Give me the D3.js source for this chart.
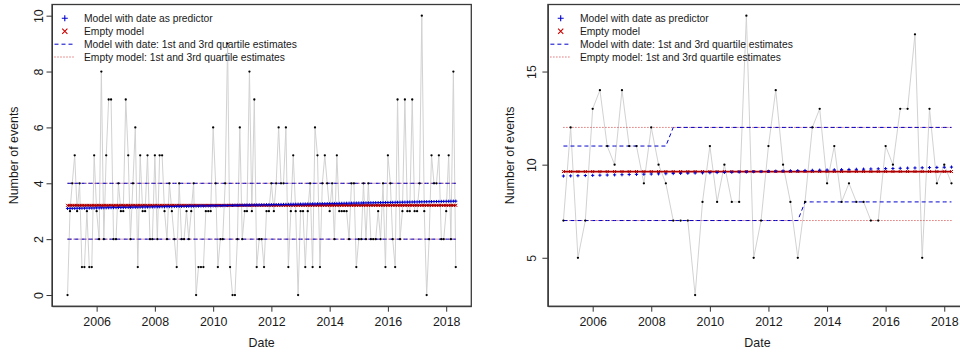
<!DOCTYPE html>
<html>
<head>
<meta charset="utf-8">
<script src="https://cdn.jsdelivr.net/npm/d3@7"></script>
<style>
  body { margin: 0; background: #fff; }
  svg { display: block; }
  text { font-family: "Liberation Sans", Arial, Helvetica, sans-serif; fill: #1a1a1a; }
</style>
</head>
<body>
<svg id="chart" width="960" height="353"></svg>
<script>
// ---- Monthly event counts, January 2005 to May 2018 ----
const monthlyCounts = [
  0, 3, 4, 5, 3, 4, 1, 1, 3, 1, 1, 5,
  3, 2, 8, 2, 5, 7, 7, 2, 2, 4, 3, 3,
  7, 5, 2, 4, 6, 1, 5, 3, 3, 5, 2, 2,
  5, 2, 5, 5, 3, 2, 4, 3, 2, 1, 4, 2,
  2, 3, 2, 3, 4, 0, 1, 1, 1, 3, 3, 3,
  6, 4, 1, 2, 2, 4, 9, 1, 0, 0, 2, 6,
  2, 3, 3, 8, 3, 7, 1, 2, 2, 1, 3, 3,
  4, 3, 4, 6, 4, 4, 6, 1, 3, 5, 3, 0,
  3, 3, 1, 3, 4, 1, 6, 5, 1, 4, 5, 4,
  3, 4, 2, 5, 3, 3, 3, 3, 2, 4, 4, 1,
  2, 2, 4, 2, 4, 2, 2, 2, 3, 2, 4, 1,
  5, 4, 2, 1, 7, 2, 3, 7, 3, 3, 7, 3,
  3, 4, 10, 3, 0, 2, 5, 4, 4, 5, 2, 2,
  3, 5, 2, 8, 1
];
const monthlyFirst = "2005-01-01";

// Monthly models: fitted mean of the empty model, fitted trend (first and last month),
// and the 1st / 3rd quartile estimates (same for both models)
const monthlyEmptyMean = 3.21;
const monthlyTrendEnds = [3.10, 3.36];
const monthlyQuartiles = [2, 4];

// ---- Quarterly event counts, Q1 2005 to Q2 2018 ----
const quarterlyCounts = [
  7, 12, 5, 7,
  13, 14, 11, 10,
  14, 11, 11, 9,
  12, 10, 9, 7,
  7, 7, 3, 8,
  11, 8, 10, 8,
  8, 18, 5, 7,
  11, 14, 10, 8,
  5, 8, 12, 13,
  9, 11, 8, 9,
  8, 8, 7, 7,
  11, 10, 13, 13,
  17, 5, 13, 9,
  10, 9
];
const quarterlyFirst = "2005-01-01";

const quarterlyEmptyMean = 9.63;
const quarterlyTrendEnds = [9.39, 9.87];
const quarterlyEmptyQuartiles = [7, 12];
// Quartile estimates of the model with date, one per quarter
const quarterlyTrendLower = [
  7, 7, 7, 7, 7, 7, 7, 7, 7, 7, 7, 7, 7, 7, 7, 7,
  7, 7, 7, 7, 7, 7, 7, 7, 7, 7, 7, 7, 7, 7, 7, 7, 7,
  8, 8, 8, 8, 8, 8, 8, 8, 8, 8, 8, 8, 8, 8, 8, 8, 8, 8, 8, 8, 8
];
const quarterlyTrendUpper = [
  11, 11, 11, 11, 11, 11, 11, 11, 11, 11, 11, 11, 11, 11, 11,
  12, 12, 12, 12, 12, 12, 12, 12, 12, 12, 12, 12, 12, 12, 12, 12, 12, 12, 12, 12,
  12, 12, 12, 12, 12, 12, 12, 12, 12, 12, 12, 12, 12, 12, 12, 12, 12, 12, 12
];

// ---- Axis ticks ----
const yearTicks = [2006, 2008, 2010, 2012, 2014, 2016, 2018];
const monthlyYTicks = [0, 2, 4, 6, 8, 10];
const quarterlyYTicks = [5, 10, 15];

const legendLabels = [
  "Model with date as predictor",
  "Empty model",
  "Model with date: 1st and 3rd quartile estimates",
  "Empty model: 1st and 3rd quartile estimates"
];

const BLUE = "#0000cd";
const RED = "#b00000";
const RED_MARK = "#c80000";
const RED_DOT = "#d03030";

const svg = d3.select("#chart");

function monthSeries(first, n, step) {
  const start = new Date(first + "T00:00:00Z");
  return d3.range(n).map(i => d3.utcMonth.offset(start, i * step));
}

// Fitted values of a log-linear trend between its first and last fitted values
function trendValues(dates, ends) {
  const t0 = +dates[0], t1 = +dates[dates.length - 1];
  const a = Math.log(ends[0]), b = Math.log(ends[1]);
  return dates.map(d => Math.exp(a + (b - a) * (+d - t0) / (t1 - t0)));
}

function expand(lo, hi) {
  const pad = (hi - lo) * 0.04;
  return [lo - pad, hi + pad];
}

function drawPanel(cfg) {
  const { left, top, width, height } = cfg.box;
  const dates = cfg.dates;
  const g = svg.append("g");

  const xd = expand(+dates[0], +dates[dates.length - 1]);
  const x = d3.scaleUtc().domain([new Date(xd[0]), new Date(xd[1])]).range([left, left + width]);
  const y = d3.scaleLinear().domain(expand(cfg.yMin, cfg.yMax)).range([top + height, top]);

  // observed counts: grey connecting line
  g.append("path")
    .datum(cfg.counts)
    .attr("fill", "none")
    .attr("stroke", "#d2d2d2")
    .attr("stroke-width", 1)
    .attr("d", d3.line().x((d, i) => x(dates[i])).y(d => y(d)));

  // quartile estimates: empty model (red dotted) and model with date (blue dashed)
  const qLine = d3.line().x((d, i) => x(dates[i])).y(d => y(d));
  cfg.emptyQuartiles.forEach(q => {
    g.append("path").datum(dates.map(() => q))
      .attr("fill", "none").attr("stroke", RED_DOT).attr("stroke-width", 1)
      .attr("stroke-dasharray", "1,2").attr("d", qLine);
  });
  cfg.trendQuartiles.forEach(arr => {
    g.append("path").datum(arr)
      .attr("fill", "none").attr("stroke", BLUE).attr("stroke-width", 1)
      .attr("stroke-dasharray", "4,3").attr("d", qLine);
  });

  // empty model: fitted mean
  const emptyVals = dates.map(() => cfg.emptyMean);
  g.append("path").datum(emptyVals)
    .attr("fill", "none").attr("stroke", RED).attr("stroke-width", 1.8)
    .attr("d", qLine);
  const s = 1.5;
  g.append("g").selectAll("path").data(emptyVals).join("path")
    .attr("transform", (d, i) => `translate(${x(dates[i])},${y(d)})`)
    .attr("d", `M${-s},${-s}L${s},${s}M${-s},${s}L${s},${-s}`)
    .attr("stroke", RED).attr("stroke-width", 1).attr("fill", "none");

  // model with date: fitted trend
  const trend = trendValues(dates, cfg.trendEnds);
  const p = 1.6;
  g.append("g").selectAll("path").data(trend).join("path")
    .attr("transform", (d, i) => `translate(${x(dates[i])},${y(d)})`)
    .attr("d", `M${-p},0H${p}M0,${-p}V${p}`)
    .attr("stroke", BLUE).attr("stroke-width", 1).attr("fill", "none");

  // observed counts: points
  g.append("g").selectAll("circle").data(cfg.counts).join("circle")
    .attr("cx", (d, i) => x(dates[i]))
    .attr("cy", d => y(d))
    .attr("r", 1.15)
    .attr("fill", "#000");

  // axes
  const xAxis = g.append("g")
    .attr("transform", `translate(0,${top + height})`)
    .call(d3.axisBottom(x)
      .tickValues(yearTicks.map(yr => new Date(Date.UTC(yr, 0, 1))))
      .tickFormat(d3.utcFormat("%Y"))
      .tickSizeInner(5.5).tickSizeOuter(0).tickPadding(3));
  xAxis.selectAll("text").attr("font-size", "12.4px").attr("y", 20).attr("dy", 0);

  const yAxis = g.append("g")
    .attr("transform", `translate(${left},0)`)
    .call(d3.axisLeft(y).tickValues(cfg.yTicks).tickFormat(d3.format("d"))
      .tickSizeInner(5.5).tickSizeOuter(0));
  yAxis.selectAll("text")
    .attr("font-size", "12.4px")
    .attr("transform", "rotate(-90)")
    .attr("text-anchor", "middle")
    .attr("x", 0).attr("dy", 0)
    .attr("y", -cfg.yLabelGap);
  [xAxis, yAxis].forEach(a => {
    a.selectAll(".tick line").attr("stroke", "#333");
    a.select(".domain").attr("stroke", "#333");
  });

  // plot box
  g.append("rect")
    .attr("x", left).attr("y", top).attr("width", width).attr("height", height)
    .attr("fill", "none").attr("stroke", "#3a3a3a").attr("stroke-width", 1.3);

  // axis titles
  g.append("text")
    .attr("x", left + width / 2).attr("y", 346.5)
    .attr("text-anchor", "middle").attr("font-size", "12.4px")
    .text("Date");
  g.append("text")
    .attr("transform", `translate(${left - 33.8},${top + height / 2}) rotate(-90)`)
    .attr("text-anchor", "middle").attr("font-size", "12.4px")
    .text("Number of events");

  // legend
  const lg = g.append("g").attr("transform", `translate(${left},0)`);
  const rows = [18.3, 31.3, 44.2, 57];
  const sx = 12.8;
  lg.append("path").attr("d", `M${sx - 3},${rows[0]}H${sx + 3}M${sx},${rows[0] - 3}V${rows[0] + 3}`)
    .attr("stroke", BLUE).attr("stroke-width", 1.1);
  lg.append("path").attr("d", `M${sx - 2.6},${rows[1] - 2.6}L${sx + 2.6},${rows[1] + 2.6}M${sx - 2.6},${rows[1] + 2.6}L${sx + 2.6},${rows[1] - 2.6}`)
    .attr("stroke", RED_MARK).attr("stroke-width", 1.1);
  lg.append("path").attr("d", `M2.5,${rows[2]}H23`)
    .attr("stroke", BLUE).attr("stroke-width", 1).attr("stroke-dasharray", "4,3");
  lg.append("path").attr("d", `M2.5,${rows[3]}H23`)
    .attr("stroke", RED_DOT).attr("stroke-width", 1).attr("stroke-dasharray", "1,2");
  legendLabels.forEach((t, i) => {
    lg.append("text").attr("x", 32).attr("y", rows[i] + 3.7)
      .attr("font-size", "10.3px").text(t);
  });
}

const monthlyDates = monthSeries(monthlyFirst, monthlyCounts.length, 1);
const quarterlyDates = monthSeries(quarterlyFirst, quarterlyCounts.length, 3);

drawPanel({
  box: { left: 52, top: 4.5, width: 419.3, height: 301.7 },
  dates: monthlyDates,
  counts: monthlyCounts,
  yMin: d3.min(monthlyCounts), yMax: d3.max(monthlyCounts),
  yTicks: monthlyYTicks,
  yLabelGap: 9.5,
  emptyMean: monthlyEmptyMean,
  trendEnds: monthlyTrendEnds,
  emptyQuartiles: monthlyQuartiles,
  trendQuartiles: monthlyQuartiles.map(q => monthlyDates.map(() => q))
});

drawPanel({
  box: { left: 547.9, top: 4.5, width: 419.1, height: 301.7 },
  dates: quarterlyDates,
  counts: quarterlyCounts,
  yMin: d3.min(quarterlyCounts), yMax: d3.max(quarterlyCounts),
  yTicks: quarterlyYTicks,
  yLabelGap: 11.5,
  emptyMean: quarterlyEmptyMean,
  trendEnds: quarterlyTrendEnds,
  emptyQuartiles: quarterlyEmptyQuartiles,
  trendQuartiles: [quarterlyTrendLower, quarterlyTrendUpper]
});
</script>
</body>
</html>
